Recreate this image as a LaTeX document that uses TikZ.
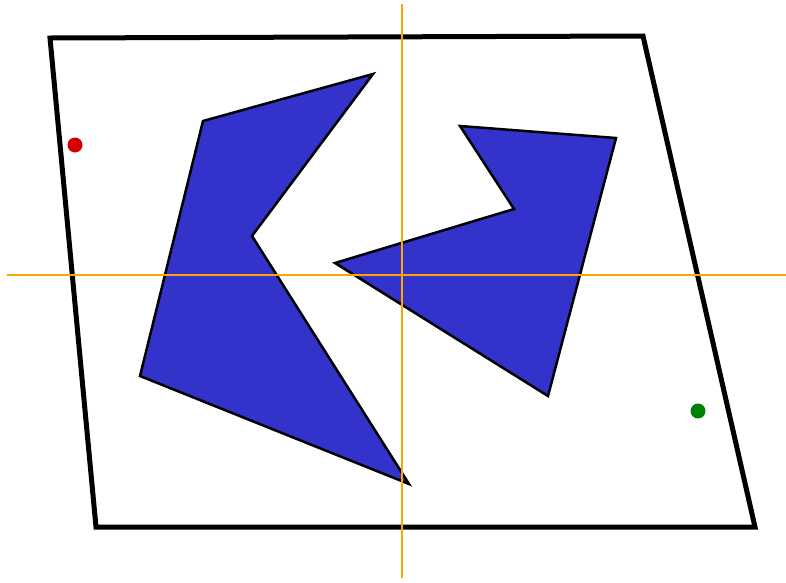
\documentclass[tikz,border=0pt]{standalone}
\definecolor{polyblue}{RGB}{51,51,204}
\definecolor{axisorange}{RGB}{255,165,0}
\definecolor{dotred}{RGB}{210,0,0}
\definecolor{dotgreen}{RGB}{0,128,0}
\begin{document}
\begin{tikzpicture}[x=1pt,y=-1pt,
  frame/.style={line width=5pt,line join=miter},
  shapepoly/.style={fill=polyblue,draw=black,line width=2.5pt,line join=miter},
  axis/.style={draw=axisorange,line width=2.2pt},
  dot/.style={circle,inner sep=0pt,minimum size=15pt}]
\useasboundingbox (0,0) rectangle (786,582);
\draw[frame] (50,38) -- (643,36) -- (755,527) -- (96,527) -- cycle;
\draw[shapepoly] (203,121) -- (373,74) -- (252,236) -- (409,484) -- (140,376) -- cycle;
\draw[shapepoly] (460,126) -- (616,138) -- (548,396) -- (335,263) -- (514,209) -- cycle;
\draw[axis] (402,4) -- (402,578);
\draw[axis] (7,275) -- (786,275);
\node[dot,fill=dotred] (reddot) at (75,145) {};
\node[dot,fill=dotgreen] (greendot) at (698,411) {};
\end{tikzpicture}
\end{document}
